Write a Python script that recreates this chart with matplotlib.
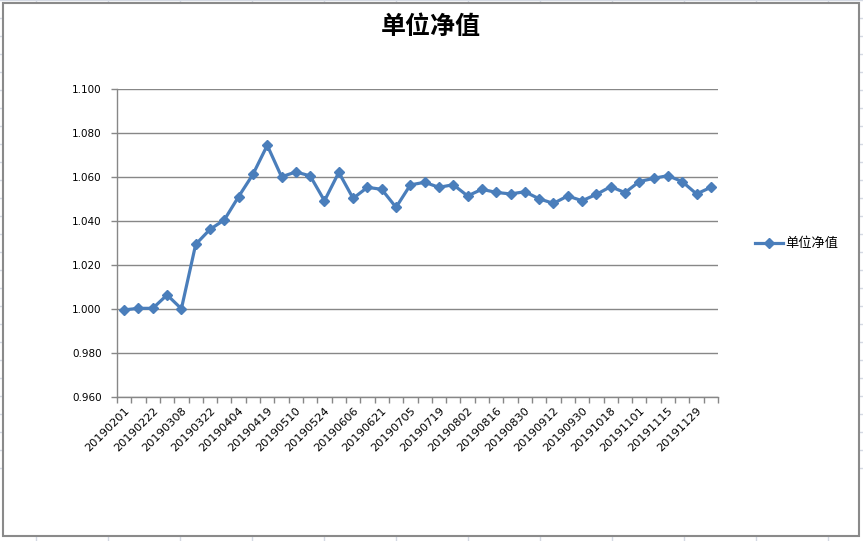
import matplotlib
matplotlib.use("Agg")
import matplotlib.pyplot as plt
from matplotlib.lines import Line2D
from matplotlib.patches import Rectangle
import numpy as np

dates = ["20190201", "20190215", "20190222", "20190301", "20190308", "20190315",
         "20190322", "20190329", "20190404", "20190412", "20190419", "20190430",
         "20190510", "20190517", "20190524", "20190531", "20190606", "20190614",
         "20190621", "20190628", "20190705", "20190712", "20190719", "20190726",
         "20190802", "20190809", "20190816", "20190823", "20190830", "20190906",
         "20190912", "20190920", "20190930", "20191011", "20191018", "20191025",
         "20191101", "20191108", "20191115", "20191122", "20191129", "20191206"]
nav = [0.9996, 1.0003, 1.0003, 1.0064, 1.0001, 1.0294, 1.0362, 1.0405, 1.0511, 1.0612,
       1.0744, 1.0601, 1.0623, 1.0605, 1.0492, 1.0621, 1.0503, 1.0553, 1.0544, 1.0462,
       1.0564, 1.0576, 1.0553, 1.0565, 1.0514, 1.0544, 1.0530, 1.0523, 1.0533, 1.0501,
       1.0480, 1.0514, 1.0492, 1.0521, 1.0556, 1.0529, 1.0579, 1.0594, 1.0606, 1.0579,
       1.0523, 1.0553]
series_name = "单位净值"
title = "单位净值"
yticks = [0.960, 0.980, 1.000, 1.020, 1.040, 1.060, 1.080, 1.100]

W, H = 863, 541
fig = plt.figure(figsize=(W / 100, H / 100), dpi=100)
fig.patch.set_facecolor("white")

# spreadsheet background grid
cell_c = "#d4d9e3"
for xx in np.arange(35.5, W, 72):
    fig.add_artist(Line2D([xx / W, xx / W], [0, 1], color=cell_c, lw=1,
                          transform=fig.transFigure, zorder=-10))
for yy in np.arange(468, -20, -18):
    fig.add_artist(Line2D([0, 1], [1 - yy / H, 1 - yy / H], color=cell_c, lw=1,
                          transform=fig.transFigure, zorder=-10))
# chart area
fig.add_artist(Rectangle((2.5 / W, 1 - 536 / H), (859 - 2.5) / W, (536 - 3) / H,
                         facecolor="white", edgecolor="#8a8a8a", lw=1.5,
                         transform=fig.transFigure, zorder=-5))

ax = fig.add_axes([117 / W, 1 - 397 / H, (718 - 117) / W, (397 - 89) / H])
ax.set_facecolor("none")
x = np.arange(len(dates))
ax.plot(x, nav, color="#4a7ebb", lw=2.3, marker="D", markersize=5.5,
        markerfacecolor="#4a7ebb", markeredgecolor="#4a7ebb", label=series_name)

ax.set_xlim(-0.5, len(dates) - 0.5)
ax.set_ylim(0.96, 1.10)
ax.set_yticks(yticks)
ax.set_yticklabels([f"{v:.3f}" for v in yticks], fontsize=7.5, family="DejaVu Sans")
ax.yaxis.grid(True, color="#878787", lw=1)
ax.set_axisbelow(True)

ax.set_xticks(x[::2])
ax.set_xticklabels(dates[::2], rotation=45, ha="right", va="top",
                   rotation_mode="anchor", fontsize=8.2, family="DejaVu Sans")
ax.set_xticks(np.arange(-0.5, len(dates)), minor=True)
ax.tick_params(axis="x", which="major", length=0, pad=6)
ax.tick_params(axis="x", which="minor", length=4, color="#878787", width=1)
ax.tick_params(axis="y", length=4, color="#878787", width=1, pad=7)

for s in ["top", "right"]:
    ax.spines[s].set_visible(False)
for s in ["left", "bottom"]:
    ax.spines[s].set_color("#878787")
    ax.spines[s].set_linewidth(1)

fig.text(431 / W, 1 - 27 / H, title, ha="center", va="center", fontsize=18,
         family=["Noto Sans CJK SC", "DejaVu Sans"], fontweight="bold")

# legend
fig.add_artist(Line2D([755 / W, 783 / W], [1 - 243 / H, 1 - 243 / H], color="#4a7ebb",
                      lw=2.3, transform=fig.transFigure))
fig.add_artist(Line2D([769 / W], [1 - 243 / H], color="#4a7ebb", marker="D",
                      markersize=5.5, transform=fig.transFigure))
fig.text(785 / W, 1 - 243 / H, series_name, ha="left", va="center", fontsize=9.5,
         family=["Noto Sans CJK SC", "DejaVu Sans"])

fig.savefig("out.png", dpi=100)
